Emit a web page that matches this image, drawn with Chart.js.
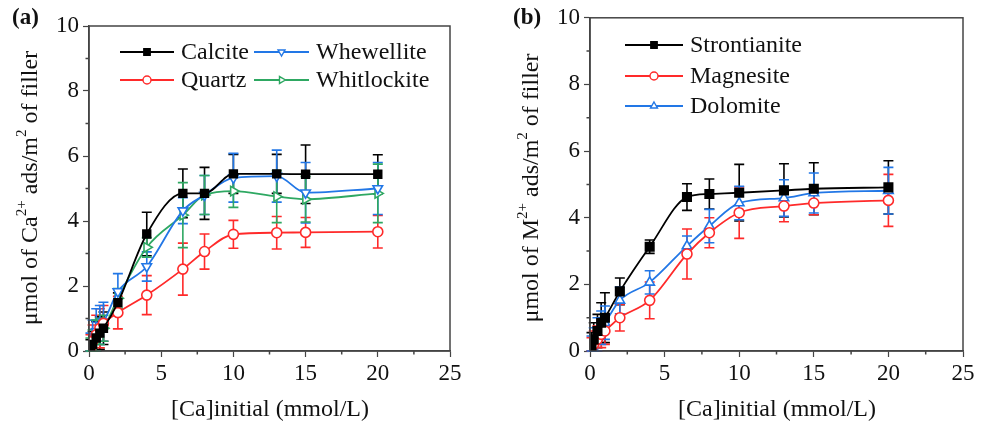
<!DOCTYPE html>
<html>
<head>
<meta charset="utf-8">
<script src="https://cdn.jsdelivr.net/npm/chart.js@4/dist/chart.umd.min.js"></script>
<style>
  body { margin: 0; background: #fff; }
  .panel { position: absolute; top: 0; width: 494px; height: 427px; }
</style>
</head>
<body>
<div class="panel" style="left:0"><canvas id="chartA" width="494" height="427"></canvas></div>
<div class="panel" style="left:494px"><canvas id="chartB" width="494" height="427"></canvas></div>
<script>
// concentrations (mmol/L)
const concA = [0.1, 0.25, 0.5, 0.75, 1, 2, 4, 6.5, 8, 10, 13, 15, 20];
const concB = [0.1, 0.25, 0.5, 0.75, 1, 2, 4, 6.5, 8, 10, 13, 15, 20];

// panel (a)
const calcite      = [0.05, 0.2, 0.4, 0.55, 0.7, 1.49, 3.6, 4.85, 4.85, 5.45, 5.45, 5.44, 5.44];
const calciteErr   = [0.3, 0.4, 0.5, 0.5, 0.5, 0.3, 0.67, 0.75, 0.8, 0.6, 0.6, 0.9, 0.6];
const quartz       = [0.1, 0.3, 0.5, 0.7, 0.85, 1.18, 1.72, 2.52, 3.06, 3.59, 3.64, 3.65, 3.67];
const quartzErr    = [0.4, 0.5, 0.6, 0.6, 0.55, 0.5, 0.6, 0.8, 0.54, 0.43, 0.5, 0.46, 0.5];
const whewellite   = [0.15, 0.35, 0.6, 0.8, 0.9, 1.83, 2.6, 4.32, 4.8, 5.33, 5.38, 4.87, 5.0];
const whewelliteErr= [0.4, 0.6, 0.7, 0.6, 0.6, 0.55, 0.45, 0.4, 0.6, 0.75, 0.8, 0.93, 0.8];
const whitlockite  = [0.1, 0.25, 0.45, 0.6, 0.7, 1.62, 3.19, 4.18, 4.8, 4.92, 4.75, 4.67, 4.85];
const whitlockiteErr=[0.3, 0.4, 0.5, 0.4, 0.4, 0.3, 0.3, 1.0, 0.6, 0.5, 0.8, 0.7, 0.9];

// panel (b)
const strontianite = [0.15, 0.35, 0.6, 0.85, 1.0, 1.79, 3.13, 4.62, 4.71, 4.75, 4.82, 4.87, 4.91];
const strontErr    = [0.4, 0.5, 0.5, 0.6, 0.75, 0.4, 0.2, 0.4, 0.45, 0.85, 0.8, 0.78, 0.8];
const magnesite    = [0.1, 0.2, 0.35, 0.5, 0.6, 1.0, 1.52, 2.91, 3.55, 4.15, 4.35, 4.44, 4.52];
const magnesiteErr = [0.3, 0.4, 0.4, 0.4, 0.4, 0.4, 0.55, 0.75, 0.45, 0.77, 0.47, 0.35, 0.78];
const dolomite     = [0.15, 0.3, 0.5, 0.7, 0.85, 1.52, 2.06, 3.15, 3.75, 4.44, 4.59, 4.74, 4.81];
const dolomiteErr  = [0.3, 0.4, 0.5, 0.5, 0.5, 0.4, 0.35, 0.3, 0.5, 0.5, 0.55, 0.6, 0.7];

const xTicks = [0, 5, 10, 15, 20, 25];
const yTicks = [0, 2, 4, 6, 8, 10];

const BLACK = '#000000', RED = '#ff2a2a', BLUE = '#2277e6', GREEN = '#2ea862';
const FONT = '"Liberation Serif", "Times New Roman", serif';

function pts(xs, ys) { return xs.map((x, i) => ({x: x, y: ys[i]})); }

function series(label, xs, ys, errs, color, style, rot, filled, r) {
  return {
    label: label,
    data: pts(xs, ys),
    errs: errs,
    showLine: true,
    borderColor: color,
    backgroundColor: filled ? color : '#ffffff',
    pointBorderColor: color,
    pointBackgroundColor: filled ? color : '#ffffff',
    pointStyle: style,
    rotation: rot,
    pointRadius: r,
    pointBorderWidth: 1.6,
    borderWidth: 1.8,
    cubicInterpolationMode: 'monotone'
  };
}

// error bars, frame, minor ticks, titles and legend
const extras = {
  id: 'extras',
  beforeDatasetsDraw(chart) {
    const ctx = chart.ctx, xs = chart.scales.x, ys = chart.scales.y;
    chart.data.datasets.forEach(ds => {
      ctx.save();
      ctx.strokeStyle = ds.borderColor;
      ctx.lineWidth = 1.6;
      ds.data.forEach((p, i) => {
        const e = ds.errs[i];
        const px = xs.getPixelForValue(p.x);
        const top = ys.getPixelForValue(p.y + e);
        const bot = ys.getPixelForValue(Math.max(0, p.y - e));
        ctx.beginPath();
        ctx.moveTo(px, top); ctx.lineTo(px, bot);
        ctx.moveTo(px - 5, top); ctx.lineTo(px + 5, top);
        ctx.moveTo(px - 5, bot); ctx.lineTo(px + 5, bot);
        ctx.stroke();
      });
      ctx.restore();
    });
  },
  afterDraw(chart) {
    const o = chart.options.plugins.extras;
    const ctx = chart.ctx, a = chart.chartArea, xs = chart.scales.x, ys = chart.scales.y;
    ctx.save();
    // frame
    ctx.strokeStyle = '#444';
    ctx.lineWidth = 1.5;
    ctx.strokeRect(a.left, a.top, a.right - a.left, a.bottom - a.top);
    // minor ticks
    ctx.beginPath();
    for (let v = 2.5; v < 25; v += 5) {
      const px = xs.getPixelForValue(v);
      ctx.moveTo(px, a.bottom); ctx.lineTo(px, a.bottom + 3.5);
    }
    for (let v = 1; v < 10; v += 2) {
      const py = ys.getPixelForValue(v);
      ctx.moveTo(a.left, py); ctx.lineTo(a.left - 3.5, py);
    }
    ctx.stroke();

    ctx.fillStyle = '#111';
    // panel label
    ctx.font = 'bold 23px ' + FONT;
    ctx.textAlign = 'left'; ctx.textBaseline = 'middle';
    ctx.fillText(o.tag, o.tagX, 18);
    // x title
    ctx.font = '24px ' + FONT;
    ctx.textAlign = 'center';
    ctx.fillText('[Ca]initial (mmol/L)', o.xTitleX, 410);
    // y title with superscripts
    const big = '24px ' + FONT, small = '15px ' + FONT;
    const parts = o.yTitle;
    let total = 0;
    parts.forEach(p => { ctx.font = p[1] ? small : big; total += ctx.measureText(p[0]).width; });
    ctx.translate(o.yTitleX, 188);
    ctx.rotate(-Math.PI / 2);
    ctx.textAlign = 'left';
    let cx = -total / 2;
    parts.forEach(p => {
      ctx.font = p[1] ? small : big;
      ctx.fillText(p[0], cx, p[1] ? -9 : 0);
      cx += ctx.measureText(p[0]).width;
    });
    ctx.setTransform(1, 0, 0, 1, 0, 0);
    // legend
    ctx.font = '24px ' + FONT;
    ctx.textBaseline = 'middle';
    chart.data.datasets.forEach((ds, i) => {
      const it = o.legend[i];
      ctx.strokeStyle = ds.borderColor;
      ctx.lineWidth = 1.8;
      ctx.beginPath();
      ctx.moveTo(it[0], it[2]); ctx.lineTo(it[1], it[2]);
      ctx.stroke();
      ctx.fillStyle = ds.pointBackgroundColor;
      ctx.lineWidth = 1.4;
      Chart.helpers.drawPoint(ctx, {pointStyle: ds.pointStyle, radius: ds.pointStyle === 'rect' ? 4.5 : 4, rotation: ds.rotation, borderWidth: 1.4}, (it[0] + it[1]) / 2, it[2]);
      ctx.fillStyle = '#111';
      ctx.fillText(ds.label, it[1] + 7, it[2] + 1);
    });
    ctx.restore();
  }
};

function makeOptions(yWidth, padTop, padRight, extra) {
  return {
    responsive: false,
    animation: false,
    devicePixelRatio: 1,
    layout: {padding: {left: 0, top: padTop, right: padRight, bottom: 0}},
    scales: {
      x: {
        type: 'linear', min: 0, max: 25,
        afterBuildTicks: s => { s.ticks = xTicks.map(v => ({value: v})); },
        afterFit: s => { s.height = 76; },
        border: {color: '#444', width: 1.5},
        grid: {drawOnChartArea: false, drawTicks: true, tickLength: 6, color: '#444', tickWidth: 1.2},
        ticks: {color: '#111', font: {family: FONT, size: 23}, padding: 3, maxRotation: 0}
      },
      y: {
        type: 'linear', min: 0, max: 10,
        afterBuildTicks: s => { s.ticks = yTicks.map(v => ({value: v})); },
        afterFit: s => { s.width = yWidth; },
        border: {color: '#444', width: 1.5},
        grid: {drawOnChartArea: false, drawTicks: true, tickLength: 6, color: '#444', tickWidth: 1.2},
        ticks: {color: '#111', font: {family: FONT, size: 23}, padding: 4}
      }
    },
    plugins: {legend: {display: false}, tooltip: {enabled: false}, extras: extra}
  };
}

new Chart('chartA', {
  type: 'scatter',
  data: {
    datasets: [
      series('Calcite', concA, calcite, calciteErr, BLACK, 'rect', 0, true, 5.5),
      series('Quartz', concA, quartz, quartzErr, RED, 'circle', 0, false, 5),
      series('Whewellite', concA, whewellite, whewelliteErr, BLUE, 'triangle', 180, false, 5.5),
      series('Whitlockite', concA, whitlockite, whitlockiteErr, GREEN, 'triangle', 90, false, 5.5)
    ]
  },
  options: makeOptions(89, 26, 44, {
    tag: '(a)', tagX: 12, xTitleX: 270, yTitleX: 31,
    yTitle: [['μmol of Ca', false], ['2+', true], [' ads/m', false], ['2', true], [' of filler', false]],
    legend: [[120, 174, 52], [120, 174, 80], [254, 309, 52], [254, 309, 80]]
  }),
  plugins: [extras]
});

new Chart('chartB', {
  type: 'scatter',
  data: {
    datasets: [
      series('Strontianite', concB, strontianite, strontErr, BLACK, 'rect', 0, true, 6),
      series('Magnesite', concB, magnesite, magnesiteErr, RED, 'circle', 0, false, 5),
      series('Dolomite', concB, dolomite, dolomiteErr, BLUE, 'triangle', 0, false, 5.5)
    ]
  },
  options: makeOptions(96, 15, 25, {
    tag: '(b)', tagX: 19, xTitleX: 283, yTitleX: 38,
    yTitle: [['μmol of M', false], ['2+', true], [' ads/m', false], ['2', true], [' of filler', false]],
    legend: [[131, 189, 45], [131, 189, 76], [131, 189, 106]]
  }),
  plugins: [extras]
});
</script>
</body>
</html>
